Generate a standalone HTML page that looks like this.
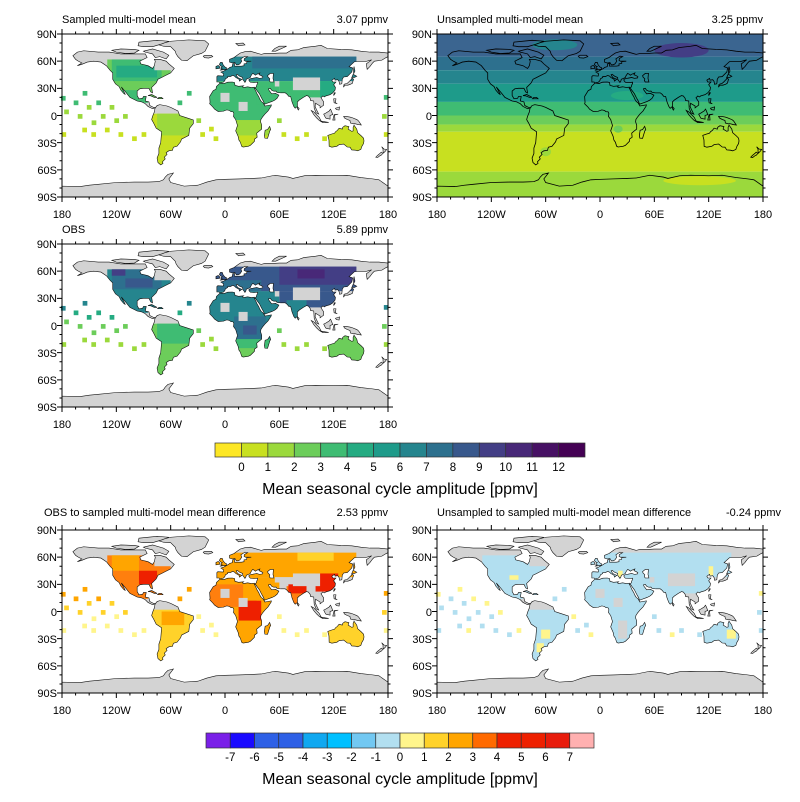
<!DOCTYPE html>
<html><head><meta charset="utf-8">
<style>
html,body{margin:0;padding:0;background:#fff;}
svg{display:block;font-family:"Liberation Sans",Arial,sans-serif;}
.t{font-size:11px;fill:#000;}
.tl{font-size:11px;fill:#000;}
.cb{font-size:11.5px;fill:#000;text-anchor:middle;}
.ct{font-size:16px;fill:#000;text-anchor:middle;}
</style></head>
<body>
<svg id="s" width="800" height="802" viewBox="0 0 800 802" xmlns="http://www.w3.org/2000/svg">
<defs><clipPath id="land" clipPathUnits="userSpaceOnUse"><path id="landclip" clip-rule="evenodd" d=""/></clipPath></defs>
<g id="maps"></g>
<text class="t" x="62" y="23">Sampled multi-model mean</text>
<text class="t" x="388" y="23" text-anchor="end">3.07 ppmv</text>
<text class="t" x="437" y="23">Unsampled multi-model mean</text>
<text class="t" x="763" y="23" text-anchor="end">3.25 ppmv</text>
<text class="t" x="62" y="233">OBS</text>
<text class="t" x="388" y="233" text-anchor="end">5.89 ppmv</text>
<text class="t" x="44" y="516">OBS to sampled multi-model mean difference</text>
<text class="t" x="388" y="516" text-anchor="end">2.53 ppmv</text>
<text class="t" x="437" y="516">Unsampled to sampled multi-model mean difference</text>
<text class="t" x="781" y="516" text-anchor="end">-0.24 ppmv</text>
<g id="labels"></g>
<g id="cb1"></g>
<text class="cb" x="241.4" y="471">0</text><text class="cb" x="267.8" y="471">1</text><text class="cb" x="294.3" y="471">2</text><text class="cb" x="320.7" y="471">3</text><text class="cb" x="347.1" y="471">4</text><text class="cb" x="373.6" y="471">5</text><text class="cb" x="400" y="471">6</text><text class="cb" x="426.4" y="471">7</text><text class="cb" x="452.9" y="471">8</text><text class="cb" x="479.3" y="471">9</text><text class="cb" x="505.7" y="471">10</text><text class="cb" x="532.1" y="471">11</text><text class="cb" x="558.6" y="471">12</text>
<text class="ct" x="400" y="494">Mean seasonal cycle amplitude [ppmv]</text>
<g id="cb2"></g>
<text class="cb" x="230.3" y="761">-7</text><text class="cb" x="254.5" y="761">-6</text><text class="cb" x="278.8" y="761">-5</text><text class="cb" x="303" y="761">-4</text><text class="cb" x="327.3" y="761">-3</text><text class="cb" x="351.5" y="761">-2</text><text class="cb" x="375.8" y="761">-1</text><text class="cb" x="400" y="761">0</text><text class="cb" x="424.3" y="761">1</text><text class="cb" x="448.5" y="761">2</text><text class="cb" x="472.8" y="761">3</text><text class="cb" x="497" y="761">4</text><text class="cb" x="521.3" y="761">5</text><text class="cb" x="545.5" y="761">6</text><text class="cb" x="569.8" y="761">7</text>
<text class="ct" x="400" y="784">Mean seasonal cycle amplitude [ppmv]</text>
<g class="tl" font-size="11">
<text x="57" y="38" text-anchor="end">90N</text><text x="57" y="65" text-anchor="end">60N</text><text x="57" y="92" text-anchor="end">30N</text><text x="57" y="120" text-anchor="end">0</text><text x="57" y="147" text-anchor="end">30S</text><text x="57" y="174" text-anchor="end">60S</text><text x="57" y="201" text-anchor="end">90S</text>
<text x="432" y="38" text-anchor="end">90N</text><text x="432" y="65" text-anchor="end">60N</text><text x="432" y="92" text-anchor="end">30N</text><text x="432" y="120" text-anchor="end">0</text><text x="432" y="147" text-anchor="end">30S</text><text x="432" y="174" text-anchor="end">60S</text><text x="432" y="201" text-anchor="end">90S</text>
<text x="57" y="248" text-anchor="end">90N</text><text x="57" y="275" text-anchor="end">60N</text><text x="57" y="302" text-anchor="end">30N</text><text x="57" y="330" text-anchor="end">0</text><text x="57" y="357" text-anchor="end">30S</text><text x="57" y="384" text-anchor="end">60S</text><text x="57" y="411" text-anchor="end">90S</text>
<text x="57" y="534" text-anchor="end">90N</text><text x="57" y="561" text-anchor="end">60N</text><text x="57" y="588" text-anchor="end">30N</text><text x="57" y="616" text-anchor="end">0</text><text x="57" y="643" text-anchor="end">30S</text><text x="57" y="670" text-anchor="end">60S</text><text x="57" y="697" text-anchor="end">90S</text>
<text x="432" y="534" text-anchor="end">90N</text><text x="432" y="561" text-anchor="end">60N</text><text x="432" y="588" text-anchor="end">30N</text><text x="432" y="616" text-anchor="end">0</text><text x="432" y="643" text-anchor="end">30S</text><text x="432" y="670" text-anchor="end">60S</text><text x="432" y="697" text-anchor="end">90S</text>
</g>
<g font-size="11" text-anchor="middle">
<text x="62" y="218">180</text><text x="116.4" y="218">120W</text><text x="170.7" y="218">60W</text><text x="225" y="218">0</text><text x="279.4" y="218">60E</text><text x="333.7" y="218">120E</text><text x="388" y="218">180</text>
<text x="437" y="218">180</text><text x="491.4" y="218">120W</text><text x="545.7" y="218">60W</text><text x="600" y="218">0</text><text x="654.4" y="218">60E</text><text x="708.7" y="218">120E</text><text x="763" y="218">180</text>
<text x="62" y="428">180</text><text x="116.4" y="428">120W</text><text x="170.7" y="428">60W</text><text x="225" y="428">0</text><text x="279.4" y="428">60E</text><text x="333.7" y="428">120E</text><text x="388" y="428">180</text>
<text x="62" y="714">180</text><text x="116.4" y="714">120W</text><text x="170.7" y="714">60W</text><text x="225" y="714">0</text><text x="279.4" y="714">60E</text><text x="333.7" y="714">120E</text><text x="388" y="714">180</text>
<text x="437" y="714">180</text><text x="491.4" y="714">120W</text><text x="545.7" y="714">60W</text><text x="600" y="714">0</text><text x="654.4" y="714">60E</text><text x="708.7" y="714">120E</text><text x="763" y="714">180</text>
</g>
</svg>
<script>
var NS="http://www.w3.org/2000/svg";
var L=[
[[-168,66],[-163,70],[-156,71.5],[-140,70],[-128,70],[-115,68],[-100,68],[-88,68],[-86,64],[-94,60],[-93,57],[-85,55],[-80,52],[-78,55],[-77,60],[-78,62],[-72,62],[-65,60],[-62,57],[-56,52],[-60,47],[-66,44],[-70,42],[-74,40],[-76,36],[-81,31],[-80,25],[-82,26],[-84,30],[-90,30],[-94,29.5],[-97,27],[-97,22],[-95,18.5],[-91,19],[-90,21],[-87,21],[-88,16],[-84,15],[-83,11],[-79,9],[-77,8.5],[-80,7.5],[-85,10],[-88,13],[-92,15],[-97,16],[-105,20],[-109,25],[-114.5,31.5],[-112,27],[-110,23],[-112,24.5],[-115,28],[-117,32],[-121,35],[-124,40],[-124,47],[-127,50],[-131,55],[-137,59],[-145,60],[-152,59],[-158,56.5],[-163,55],[-158,58],[-162,60],[-165,62]],
[[-77,8.5],[-75,11],[-72,12],[-64,10.5],[-60,9],[-52,5],[-50,0],[-44,-2],[-35,-5],[-35,-9],[-39,-14],[-40,-22],[-48,-26],[-49,-29],[-53,-34],[-57,-35],[-58,-38.5],[-62,-39],[-65,-41],[-64,-43],[-67,-46],[-66,-48],[-69,-51],[-68.5,-53],[-71,-54.5],[-74,-52],[-75,-47],[-73,-42],[-73,-36],[-71,-30],[-70,-18],[-76,-14],[-79,-8],[-81,-4.5],[-80,-1],[-79,1.5],[-78,4],[-77.5,7]],
[[-9,43],[-8,44],[-2,43.5],[-1.5,46],[-4.5,48],[-1.5,49],[2,51],[4,52],[5,53],[8,54],[8.5,57],[10.5,57.5],[10.5,54.5],[13,54.5],[18,54.5],[21,55],[21,57],[24,57.5],[24,59.5],[29,60],[22.5,60],[21,61],[21.5,63],[25,65],[22,65.5],[17.5,62.5],[18.5,60],[16.5,57],[14.5,56],[12.5,56],[11,58.5],[8,58],[5,59],[5,62],[10,64],[14,67],[17,69],[22,70.5],[28,71],[33,69.5],[40,67.5],[44,68.5],[53,68.5],[60,69],[68,69],[73,72],[80,72.5],[87,75],[100,76.5],[106,77.5],[113,74],[128,73],[140,72.5],[150,71],[160,70],[170,70],[180,69],[180,65],[178,64],[173,61],[165,60],[163,58],[160,54],[157,51],[156,57],[162,61.5],[155,59.5],[143,59.5],[137,54],[141,52.5],[140,48],[135,43],[131,42.5],[129.5,40],[129,35],[126.5,34.5],[126,37.5],[124.5,39.5],[121.5,39],[121,41],[118,39],[119,37],[122.5,37],[120,34],[122,31],[121.5,28],[119,25],[116,23],[111,21.5],[110,20.5],[108,21.5],[106,19.5],[109,15],[109,11.5],[105,8.5],[105,10.5],[100,13.5],[99.5,10],[101,6.5],[103.5,1.5],[100.5,3],[98.5,8],[98,16],[94.5,16.5],[94,19],[92,21.5],[90,22],[86.5,20],[82,17],[80,15],[80,10],[77.5,8],[76,10],[74,15],[73,19],[72.5,21],[70.5,21],[68.5,23.5],[66.5,25],[61.5,25],[57.5,25.5],[56.3,27],[54,26.8],[51.5,27.9],[50,30],[48,29.5],[48.5,28],[50,26],[51.5,24],[56,24.5],[56.5,24],[59.5,22.5],[57.5,19],[55,17],[52,15.5],[45,13],[43.5,12.5],[42.8,15],[40,20],[38,24],[35,28],[34,29.5],[32.5,30],[34.5,31.5],[35,33.5],[36,35.5],[36,36.8],[32,36.3],[28,36.7],[26.5,38.5],[26.5,40],[29,41],[31,41.2],[35,42],[38,41],[41.5,41.5],[41.8,43],[39,44.5],[37.5,45],[38.5,47],[35,45.5],[33.5,44.5],[32.5,45.5],[30.5,46.5],[29.5,45],[28.5,43.5],[28,42],[26,41],[23.5,40],[23,38],[22,36.5],[21,38],[19.5,40],[19.5,42],[16,43.5],[13.5,45.5],[12.3,45],[14,42],[16,41],[18.5,40],[16,38],[15.5,40],[12,42],[10.5,43.5],[8.5,44.3],[6,43],[3,43],[3,42],[0.5,40.5],[0,39],[-0.5,38],[-2,36.7],[-5.5,36],[-6.5,37],[-9,37],[-9,39]],
[[47,44],[50,46.5],[53.5,46.5],[53,41],[54,37],[50,37],[49,38.5],[49.5,40.5],[47.5,42.5]],
[[-5.5,35.8],[-9.5,32],[-10,29],[-13,27.5],[-17,21],[-16.5,14.5],[-17,13],[-15,11],[-13.5,9.5],[-11.5,7],[-7.5,4.4],[-2,4.7],[2,6.2],[5,5.5],[6.5,4.3],[9,4],[9.8,2],[9.3,-1],[11.8,-4.5],[13,-8.5],[13.8,-11],[11.8,-17],[14.5,-23],[15.3,-27],[17,-29.5],[18.4,-34],[20,-34.8],[25.6,-34],[28,-33],[32.5,-28.5],[32.8,-25.9],[35.5,-24],[35.3,-22],[35,-19.5],[37,-17.8],[40.5,-15],[40.5,-10.5],[39.3,-7],[39.6,-4.5],[41.5,-1.6],[44,1.5],[47.5,5],[51,10.5],[51.2,11.8],[48,11.2],[44,10.5],[43.3,11.8],[42,14],[40,15.5],[38.5,18],[37.2,21],[35.6,23.5],[34,27],[32.5,30],[32.5,31.2],[29,30.9],[25,31.7],[20,30.8],[19.5,32],[20.5,32.8],[15,32.2],[11,33.3],[10.5,36.5],[8,37],[3,36.8],[-1,35.3]],
[[43.5,-22],[44,-25],[47,-25.2],[49.5,-17],[50.5,-15.5],[49.3,-12],[47,-15.5],[44.3,-16.3]],
[[113.5,-22],[114.8,-27],[115,-34],[118,-35],[123.5,-34],[126,-32.2],[131,-31.5],[135,-34.8],[138,-35],[140,-38],[144,-38.3],[146.5,-39],[150,-37.5],[151.2,-34],[153,-31],[153.5,-28],[153,-25],[150.5,-22.5],[146.5,-19],[145.5,-15],[142.5,-10.7],[141.5,-13],[141.5,-17],[140,-17.5],[136,-15],[136.8,-12.2],[132.5,-11.3],[130,-13],[129.5,-15],[126,-14],[124,-16.5],[122,-18],[121,-19.5],[117,-20.7]],
[[-180,-90],[180,-90],[180,-78],[170,-71],[163,-70],[150,-68.5],[135,-66],[120,-66.5],[100,-66],[88,-66.5],[75,-69.5],[70,-68],[55,-66],[40,-69],[30,-69.5],[15,-70],[0,-70.5],[-10,-71],[-20,-73.5],[-30,-77],[-45,-78],[-60,-74],[-62,-70],[-57,-63.5],[-63,-65],[-66,-68],[-68,-71],[-73,-73],[-85,-73.5],[-100,-73.5],[-120,-74],[-140,-76],[-150,-77],[-160,-78.5],[-180,-78]],
[[-73,78],[-66,80.5],[-60,82],[-40,83.5],[-22,82.5],[-18,79],[-20,75],[-22,71],[-26,68.5],[-35,66],[-42,60.5],[-48,61],[-52,65],[-54,68],[-55,71],[-60,76],[-68,76.5]],
[[-90,71],[-80,73.5],[-68,70],[-62,66.5],[-65,62.5],[-72,65],[-77,64],[-80,68],[-88,70]],
[[-125,72],[-115,73.5],[-100,73],[-95,72],[-100,69],[-110,68.5],[-120,70]],
[[-90,76],[-80,76],[-70,79],[-62,82],[-75,83],[-95,81],[-96,77]],
[[15,77],[22,78],[20,80],[12,79.5]],
[[52,71],[56,71],[68,76.5],[60,76.5],[55,74]],
[[-85,22],[-81,23.2],[-75,20],[-78,20],[-82,21.7]],
[[-74.5,18.5],[-68.5,18.5],[-70,20],[-73,20]],
[[173,-34.5],[175.5,-37],[178.5,-37.5],[177,-39.5],[175,-41.5],[174.5,-39.5],[174.5,-37]],
[[172.5,-40.5],[174.3,-41.5],[173,-43.5],[171,-44.5],[168.5,-46.5],[166.5,-46],[168.5,-44],[171.5,-41.5]],
[[120,18.5],[122.5,18.5],[122,14],[124,13],[120.5,14]],
[[122,8],[126.5,9.5],[126,6],[123,6.5]],
[[119,-5],[120.5,1],[125,1.5],[121,0.5],[121.5,-5]],
[[105,-6],[114.5,-7.7],[108,-7.8]],
[[120,22],[121.9,25],[121,25.3],[120.1,23.5]],
[[79.8,8],[80,9.8],[81.9,7.5],[81,6]],
[[142,46],[143.5,49],[142.5,54],[142,51]],
[[140,42],[141.5,45.5],[145.5,43.3],[143,42]],
[[130.8,31.3],[131.5,34.5],[135,35.5],[136.8,37.2],[140,40.5],[140,41.5],[142,40],[141,37],[140.8,35.7],[139,34.7],[135.7,33.5],[132.5,33.5]],
[[-24,65.5],[-22,66.5],[-15,66.5],[-13.5,65],[-18,63.4],[-22.5,63.8]],
[[-5.7,50],[1.5,51],[1.7,52.7],[0,53.5],[-2,55.8],[-3,58.6],[-5,58.6],[-6.2,56.5],[-5,54.8],[-3,54],[-4.5,52.9],[-4.5,51.7],[-3,51.4]],
[[-10,51.6],[-6,52],[-6,54],[-7.5,55.3],[-10,54.2]],
[[95.3,5.5],[98,4],[104,-2],[106,-5.8],[104.5,-5.9],[101,-2.5],[98,1]],
[[109,1.5],[110.5,-1.5],[111.5,-3],[116,-4],[116,0],[119,1],[117.5,5],[116.5,7],[115,5],[111,2.5]],
[[131,-1],[134,-1],[138,-1.7],[141,-2.6],[145.8,-4.6],[147.5,-6],[150.5,-10.5],[147,-10],[143.5,-9],[142,-9.2],[138.5,-8.3],[138,-5.5],[135,-4.4],[132,-2.8]]
];
var D="";L.forEach(function(p){D+="M"+p.map(function(q){return q[0]+","+q[1];}).join("L")+"Z";});
document.getElementById("landclip").setAttribute("d",D);
function el(t,a,par){var e=document.createElementNS(NS,t);for(var k in a)e.setAttribute(k,a[k]);if(par)par.appendChild(e);return e;}
var maps=document.getElementById("maps");
var SX=326/360,SY=163/180;
var OC=[[-178.6,19],[-175,4],[-164.5,14],[-154.6,24.5],[-160,-1],[-150,9],[-139.5,14],[-144.7,-8],[-134.5,-1],[-124.8,9],[-130,-16],[-119.6,-5.7],[-110,-1],[-115,-21],[-100,-25.6],[-89.5,-21],[-178,-21],[-155,-16],[-145,-21],[-49.8,14],[-39.5,24.5],[-29,-5.7],[-24.7,-21],[-15,-15],[-10,-25.6],[60,-5.7],[65,-21],[79.7,-25.6],[90,-21],[110,-25.6],[178,20],[176,-1],[178,-21]];
function panel(x0,y0,opt){
  var g=el("g",{transform:"translate("+(x0+163)+","+(y0+81.5)+") scale("+SX+","+(-SY)+")"},maps);
  if(opt.bands){
    opt.bands.forEach(function(b){el("rect",{x:-180,y:b[0],width:360,height:b[1]-b[0],fill:b[2]},g);});
    (opt.blobs||[]).forEach(function(b){el("ellipse",{cx:b[0],cy:b[1],rx:b[2],ry:b[3],fill:b[4]},g);});
    el("path",{d:D,fill:"none",stroke:"#000","stroke-width":"0.8","vector-effect":"non-scaling-stroke"},g);
  } else {
    el("path",{d:D,fill:"#d3d3d3","fill-rule":"evenodd"},g);
    var c=el("g",{"clip-path":"url(#land)"},g);
    opt.rects.forEach(function(r){el("rect",{x:r[0],y:r[1],width:r[2]-r[0],height:r[3]-r[1],fill:r[4]},c);});
    OC.forEach(function(o,i){el("rect",{x:o[0]-2.6,y:o[1]-2.6,width:5.2,height:5.2,fill:opt.oc(o[1],i)},g);});
    el("path",{d:D,fill:"none",stroke:"#111","stroke-width":"0.6","vector-effect":"non-scaling-stroke"},g);
  }
  var w=326,h=163;
  el("rect",{x:x0,y:y0,width:w,height:h,fill:"none",stroke:"#000","stroke-width":"1"},maps);
  var tk="";
  for(var lon=-180;lon<=180;lon+=15){var x=x0+(lon+180)*SX;var m=(lon%60==0)?5:2.5;
    tk+="M"+x+","+y0+"v"+(-m)+"M"+x+","+(y0+h)+"v"+m;}
  for(var lat=-90;lat<=90;lat+=10){var y=y0+(90-lat)*SY;var m=(lat%30==0)?5:2.5;
    tk+="M"+x0+","+y+"h"+(-m)+"M"+(x0+w)+","+y+"h"+m;}
  el("path",{d:tk,stroke:"#000","stroke-width":"1",fill:"none"},maps);
}
var G="#d3d3d3";
var TIB=[75,28,105,42,G];
panel(62,34,{rects:[
 [-130,15,-60,62,"#6ccd5a"],[-125,38,-70,62,"#3fbc73"],[-120,42,-75,55,"#25ab82"],[-118,14,-85,28,"#3fbc73"],[-78,50,-55,62,G],[-135,62,-60,75,G],
 [-82,-56,-34,2,"#c8e020"],[-75,-22,-34,2,"#9bd93c"],
 [-20,-36,55,38,"#3fbc73"],[-20,-36,55,-5,"#9bd93c"],[-20,-36,55,-22,"#c8e020"],[-5,15,5,25,G],[15,5,25,15,G],
 [35,12,60,32,"#3fbc73"],[-10,38,145,65,"#25858e"],[30,52,145,65,"#2d708e"],[60,20,125,38,"#3fbc73"],[105,20,125,38,"#25ab82"],[68,8,90,28,"#3fbc73"],TIB,
 [110,-40,155,-10,"#c8e020"]],
 oc:function(lat){return lat>12?"#3fbc73":lat>-10?"#9bd93c":"#c8e020";}});
panel(437,34,{bands:[[65,90,"#3b6590"],[50,65,"#2d708e"],[35,50,"#25858e"],[15,35,"#1e9b8a"],[0,15,"#3fbc73"],[-10,0,"#6ccd5a"],[-18,-10,"#9bd93c"],[-62,-18,"#c8e020"],[-90,-62,"#9bd93c"]],
 blobs:[[90,72,30,8,"#433e85"],[-50,78,25,6,"#25858e"],[30,22,18,5,"#25ab82"],[20,-15,5,4,"#6ccd5a"],[-60,-40,6,5,"#9bd93c"],[110,-72,40,5,"#c8e020"]]});
panel(62,244,{rects:[
 [-130,15,-60,62,"#25858e"],[-125,40,-70,62,"#2d708e"],[-110,42,-80,52,"#38588c"],[-125,55,-110,62,"#433e85"],[-118,14,-85,28,"#25858e"],[-78,50,-55,62,G],
 [-82,-56,-34,2,"#6ccd5a"],[-75,-20,-34,2,"#3fbc73"],
 [-20,-36,55,38,"#25858e"],[10,-15,45,10,"#2d708e"],[20,-10,35,0,"#38588c"],[-20,-36,55,-15,"#3fbc73"],[-20,-36,55,-25,"#6ccd5a"],[-5,15,5,25,G],[15,5,25,15,G],
 [35,12,60,32,"#25858e"],[-10,38,145,65,"#38588c"],[-10,38,40,50,"#2d708e"],[60,45,145,65,"#433e85"],[80,52,110,62,"#482878"],[60,20,125,38,"#38588c"],[68,8,90,28,"#25858e"],TIB,
 [110,-40,155,-10,"#6ccd5a"]],
 oc:function(lat){return lat>15?"#25858e":lat>5?"#25ab82":lat>-10?"#6ccd5a":"#9bd93c";}});
panel(62,530,{rects:[
 [-130,15,-60,62,"#ff7f0e"],[-95,30,-75,45,"#ee2000"],[-125,45,-95,62,"#ffa500"],[-118,14,-85,28,"#ff7f0e"],[-78,50,-55,62,G],
 [-82,-56,-34,2,"#ffd22a"],[-70,-15,-45,0,"#ffa500"],
 [-20,-36,55,38,"#ffa500"],[-20,5,20,30,"#ff7f0e"],[15,-10,40,12,"#ee2000"],[-20,-36,55,-18,"#ffa500"],[-5,15,5,25,G],[15,5,25,15,G],
 [35,12,60,32,"#ffa500"],[-10,38,145,65,"#ffa500"],[80,56,120,65,"#ffd22a"],[100,22,125,42,"#ee2000"],[68,8,90,28,"#ff7f0e"],[70,20,90,30,"#ee2000"],TIB,
 [110,-40,155,-10,"#ffd22a"]],
 oc:function(lat){return lat>12?"#ffa500":lat>-3?"#ffd22a":"#fff58c";}});
panel(437,530,{rects:[
 [-130,15,-60,62,"#b2dff0"],[-118,14,-85,28,"#b2dff0"],[-78,50,-55,62,G],[-100,35,-90,40,"#fff58c"],
 [-82,-56,-34,2,"#b2dff0"],[-65,-30,-55,-20,"#fff58c"],[-70,-45,-62,-35,"#fff58c"],
 [-20,-36,55,38,"#b2dff0"],[-5,15,5,25,G],[15,5,25,15,G],[20,-30,30,-10,G],
 [35,12,60,32,"#b2dff0"],[-10,38,145,65,"#b2dff0"],[60,20,125,38,"#b2dff0"],[68,8,90,28,"#b2dff0"],TIB,[20,38,25,45,"#fff58c"],[120,40,125,50,"#fff58c"],
 [110,-40,155,-10,"#b2dff0"],[140,-30,150,-20,"#fff58c"]],
 oc:function(lat,i){return (i%3==0)?"#fff58c":"#b2dff0";}});
var c1=["#fde725","#c8e020","#9bd93c","#6ccd5a","#3fbc73","#25ab82","#1e9b8a","#25858e","#2d708e","#38588c","#433e85","#482878","#471164","#440154"];
var cb1=document.getElementById("cb1");var bw=370/14;
c1.forEach(function(c,i){el("rect",{x:215+i*bw,y:443,width:bw,height:14,fill:c,stroke:"#333","stroke-width":"0.7"},cb1);});
var c2=["#7a20e8","#1a0aff","#2e60e6","#2e60e6","#10a8f0","#00c0ff","#72c8f2","#b2dff0","#fff58c","#ffd22a","#ffa500","#ff6a00","#ee2000","#ee2000","#e81c0c","#ffb0b0"];
var cb2=document.getElementById("cb2");var bw2=388/16;
c2.forEach(function(c,i){el("rect",{x:206+i*bw2,y:733,width:bw2,height:15,fill:c,stroke:"#333","stroke-width":"0.7"},cb2);});
</script>
</body></html>
